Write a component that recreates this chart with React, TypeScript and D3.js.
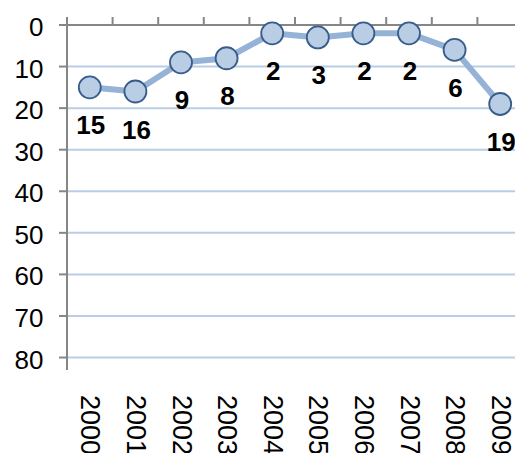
import React from "react";
import * as d3 from "d3";

const years = ["2000", "2001", "2002", "2003", "2004", "2005", "2006", "2007", "2008", "2009"];
const values = [15, 16, 9, 8, 2, 3, 2, 2, 6, 19];
const yTicks = [0, 10, 20, 30, 40, 50, 60, 70, 80];

const W = 515;
const H = 453;
const FONT = "Arial, 'Liberation Sans', Helvetica, sans-serif";

export default function App() {
  const left = 67;
  const top = 25;
  const x = d3.scaleBand<string>().domain(years).range([left, left + 456]).padding(0);
  const y = d3.scaleLinear().domain([0, 83]).range([top, 370]);
  const cx = (d: string) => (x(d) as number) + x.bandwidth() / 2;

  const line = d3
    .line<number>()
    .x((_, i) => cx(years[i]))
    .y((v) => y(v))
    .curve(d3.curveLinear);

  const boundaries = years.map((d) => x(d) as number);

  return (
    <svg
      width={W}
      height={H}
      style={{ position: "absolute", left: 0, top: 0, background: "#fff" }}
      fontFamily={FONT}
    >
      {yTicks.filter((t) => t !== 0).map((t) => (
        <line key={"g" + t} x1={left} x2={W} y1={y(t)} y2={y(t)} stroke="#b9cde5" strokeWidth={2} />
      ))}
      <line x1={left} x2={left} y1={top - 8} y2={370} stroke="#868686" strokeWidth={2} />
      {yTicks.map((t) => (
        <g key={"t" + t}>
          <line x1={left - 8} x2={left} y1={y(t)} y2={y(t)} stroke="#868686" strokeWidth={2} />
          <text x={43.5} y={y(t) + 2} textAnchor="end" dominantBaseline="central" fontSize={26} fill="#000">
            {t}
          </text>
        </g>
      ))}
      <line x1={left} x2={W} y1={top} y2={top} stroke="#868686" strokeWidth={2} />
      {boundaries.map((b, i) => (
        <line key={"xt" + i} x1={b} x2={b} y1={top - 8} y2={top} stroke="#868686" strokeWidth={2} />
      ))}
      {years.map((yr) => (
        <text
          key={"xl" + yr}
          transform={`translate(${cx(yr) - 8.5},395) rotate(90)`}
          fontSize={27}
          fill="#000"
        >
          {yr}
        </text>
      ))}
      <path d={line(values) || ""} fill="none" stroke="#95b3d7" strokeWidth={6} strokeLinejoin="round" />
      {values.map((v, i) => (
        <circle key={"m" + i} cx={cx(years[i])} cy={y(v)} r={11} fill="#b9cde5" stroke="#385d8a" strokeWidth={1.8} />
      ))}
      {values.map((v, i) => (
        <text
          key={"dl" + i}
          x={cx(years[i]) + 1}
          y={y(v) + 47}
          textAnchor="middle"
          fontSize={26}
          fontWeight="bold"
          fill="#000"
        >
          {v}
        </text>
      ))}
    </svg>
  );
}
